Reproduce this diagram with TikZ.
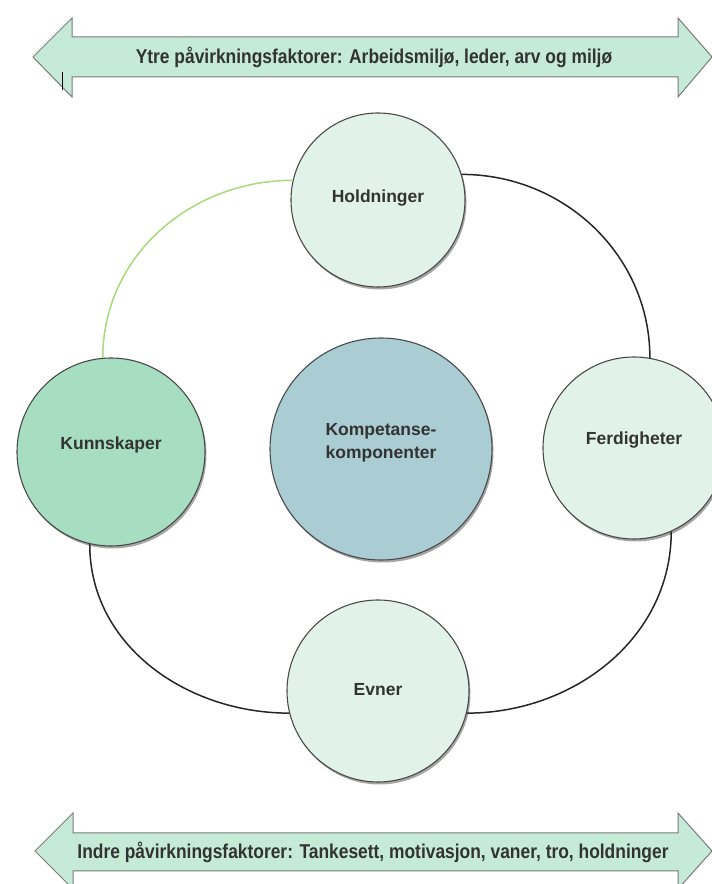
\documentclass[tikz,border=0pt]{standalone}
\usepackage{fontspec}
\setmainfont{Liberation Sans}
\newfontfamily\condfont[FakeStretch=0.87]{Liberation Sans}
\usetikzlibrary{shadows}
\definecolor{arrowfill}{HTML}{C5EBD8}
\definecolor{arrowdraw}{HTML}{7A7A7A}
\definecolor{lightfill}{HTML}{E1F2EA}
\definecolor{kfill}{HTML}{A7DDC0}
\definecolor{cfill}{HTML}{AACCD3}
\definecolor{greenline}{HTML}{A9D97A}
\definecolor{circborder}{HTML}{4A4A4A}
\definecolor{txt}{HTML}{333333}
\begin{document}
\begin{tikzpicture}[x=1pt,y=1pt,
  circ/.style={circle,draw=circborder,line width=1.1pt,inner sep=0pt,
    drop shadow={shadow xshift=1.5pt,shadow yshift=-2.5pt,opacity=0.7}},
  ctext/.style={font=\fontsize{17.5}{23}\selectfont\bfseries,text=txt,align=center,inner sep=0pt},
  bigarrow/.style={draw=arrowdraw,fill=arrowfill,line width=1pt,line join=miter},
  arrowtext/.style={font=\condfont\fontsize{20}{24}\selectfont\bfseries,text=txt,inner sep=0pt},
  ring/.style={line width=1.5pt,draw=black!85}]
\clip (0,0) rectangle (712,884);
\useasboundingbox (0,0) rectangle (712,884);

% top double arrow
\draw[bigarrow] (33,827) -- (72,866) -- (72,847) -- (678,847) -- (678,866) -- (712,827)
  -- (678,787) -- (678,807) -- (72,807) -- (72,787) -- cycle;
\node[arrowtext] (ytre) at (374,827) {Ytre påvirkningsfaktorer: Arbeidsmiljø, leder, arv og miljø};
\draw[line width=1pt,black] (62,812) -- (62,794);

% bottom double arrow
\draw[bigarrow] (35,33) -- (73,71) -- (73,51) -- (678,51) -- (678,71) -- (712,33)
  -- (678,-5) -- (678,13) -- (73,13) -- (73,-5) -- cycle;
\node[arrowtext] (indre) at (373,32) {Indre påvirkningsfaktorer: Tankesett, motivasjon, vaner, tro, holdninger};

% circles
\node[circ,fill=lightfill,minimum size=174pt] (H) at (378,684) {};
\node[circ,fill=kfill,minimum size=188pt] (K) at (111,432) {};
\node[circ,fill=lightfill,minimum size=182pt] (F) at (634,436) {};
\node[circ,fill=lightfill,minimum size=182pt] (E) at (378,193) {};
\node[circ,fill=cfill,minimum size=222pt] (C) at (381,435) {};

\node[ctext] (Ht) at ([yshift=2pt]H.center) {Holdninger};
\node[ctext] (Kt) at ([yshift=7pt]K.center) {Kunnskaper};
\node[ctext] (Ft) at ([yshift=8pt]F.center) {Ferdigheter};
\node[ctext] (Et) at ([yshift=1pt]E.center) {Evner};
\node[ctext] (Ct) at ([yshift=6pt]C.center) {Kompetanse-\\komponenter};

% ring connectors
\draw[line width=1.5pt,greenline] (K.95) to[out=90,in=180] (H.167);
\draw[ring] (H.17) to[out=0,in=90] (F.80);
\draw[ring] (K.257) to[out=-90,in=180] (E.194);
\draw[ring] (E.-14) to[out=0,in=-90] (F.-66);
\end{tikzpicture}
\end{document}
